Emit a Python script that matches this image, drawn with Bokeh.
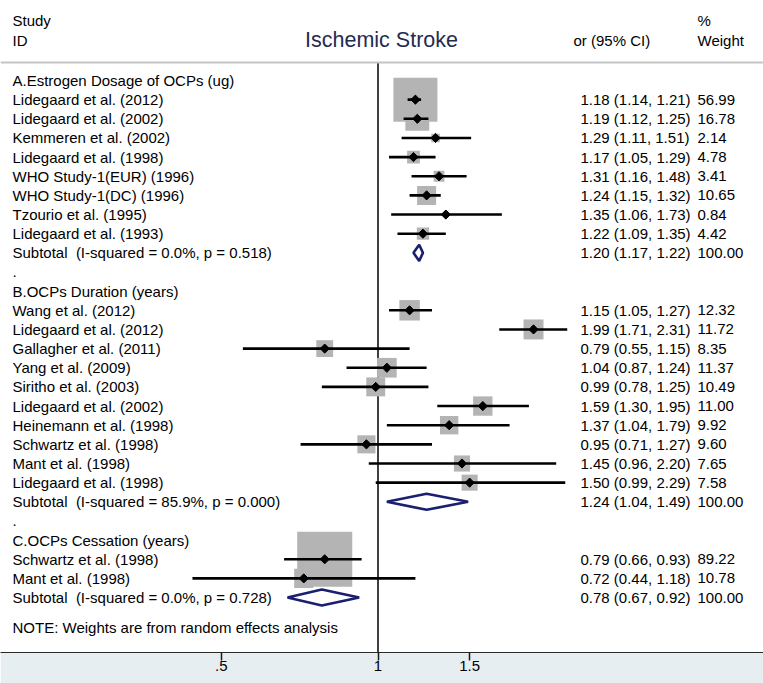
import math
from bokeh.plotting import figure
from bokeh.models import Range1d, FixedTicker, Label, LabelSet, ColumnDataSource, Span
from bokeh.core.properties import value
from bokeh.embed import file_html
from bokeh.resources import INLINE

# ---------------- data ----------------
chart_title = "Ischemic Stroke"
header_left = ["Study", "ID"]
header_est = "or (95% CI)"
header_w = ["%", "Weight"]

group_names = ["A.Estrogen Dosage of OCPs (ug)", "B.OCPs Duration (years)", "C.OCPs Cessation (years)"]

studies_A = ["Lidegaard et al. (2012)", "Lidegaard et al. (2002)", "Kemmeren et al. (2002)",
             "Lidegaard et al. (1998)", "WHO Study-1(EUR) (1996)", "WHO Study-1(DC) (1996)",
             "Tzourio et al. (1995)", "Lidegaard et al. (1993)"]
or_A = [1.18, 1.19, 1.29, 1.17, 1.31, 1.24, 1.35, 1.22]
lo_A = [1.14, 1.12, 1.11, 1.05, 1.16, 1.15, 1.06, 1.09]
hi_A = [1.21, 1.25, 1.51, 1.29, 1.48, 1.32, 1.73, 1.35]
w_A = [56.99, 16.78, 2.14, 4.78, 3.41, 10.65, 0.84, 4.42]

studies_B = ["Wang et al. (2012)", "Lidegaard et al. (2012)", "Gallagher et al. (2011)",
             "Yang et al. (2009)", "Siritho et al. (2003)", "Lidegaard et al. (2002)",
             "Heinemann et al. (1998)", "Schwartz et al. (1998)", "Mant et al. (1998)",
             "Lidegaard et al. (1998)"]
or_B = [1.15, 1.99, 0.79, 1.04, 0.99, 1.59, 1.37, 0.95, 1.45, 1.50]
lo_B = [1.05, 1.71, 0.55, 0.87, 0.78, 1.30, 1.04, 0.71, 0.96, 0.99]
hi_B = [1.27, 2.31, 1.15, 1.24, 1.25, 1.95, 1.79, 1.27, 2.20, 2.29]
w_B = [12.32, 11.72, 8.35, 11.37, 10.49, 11.00, 9.92, 9.60, 7.65, 7.58]

studies_C = ["Schwartz et al. (1998)", "Mant et al. (1998)"]
or_C = [0.79, 0.72]
lo_C = [0.66, 0.44]
hi_C = [0.93, 1.18]
w_C = [89.22, 10.78]

sub_or = [1.20, 1.24, 0.78]
sub_lo = [1.17, 1.04, 0.67]
sub_hi = [1.22, 1.49, 0.92]
sub_i2 = [0.0, 85.9, 0.0]
sub_p = [0.518, 0.000, 0.728]
sub_w = [100.00, 100.00, 100.00]

null_value = 1
tick_values = [0.5, 1, 1.5]
tick_labels = [".5", "1", "1.5"]
note_text = "NOTE: Weights are from random effects analysis"

# ---------------- layout / style ----------------
FONT = "Liberation Sans"
FS = "15px"
W, H = 763, 683
BOTTOM = 31
ROW_PX = 19.15
ROW0_PX = 80.0
frame_h = H - BOTTOM
r_top = -ROW0_PX / ROW_PX
r_bot = (frame_h - ROW0_PX) / ROW_PX
PX_PER_LN = 226.0
X_NULL_PX = 377.5
x_lo = math.exp(-X_NULL_PX / PX_PER_LN)
x_hi = math.exp((W - X_NULL_PX) / PX_PER_LN)

X_LEFT = 12
X_EST = 580
X_W = 697
X_EST_HEAD = 573
X_TITLE = 381

BOX_K = 5.83

p = figure(width=W, height=H, x_axis_type="log",
           x_range=Range1d(x_lo, x_hi), y_range=Range1d(r_bot, r_top),
           y_axis_location=None, output_backend="svg", toolbar_location=None,
           min_border_left=0, min_border_right=0, min_border_top=0, min_border_bottom=BOTTOM)
p.xgrid.visible = False
p.ygrid.visible = False
p.outline_line_color = None
p.background_fill_color = "white"
p.border_fill_color = "#e7eef2"

ax = p.xaxis[0]
ax.ticker = FixedTicker(ticks=tick_values, minor_ticks=[])
ax.major_label_overrides = {t: l for t, l in zip(tick_values, tick_labels)}
ax.axis_line_color = "#2a2a2a"
ax.axis_line_width = 1.2
ax.major_tick_line_color = "#1a1a1a"
ax.major_tick_line_width = 1.5
ax.major_tick_out = 8
ax.major_tick_in = 0
ax.minor_tick_out = 0
ax.major_label_standoff = 0
ax.major_label_text_font = FONT
ax.major_label_text_font_size = FS
ax.major_label_text_color = "black"

# ---------------- build rows ----------------
groups = [(studies_A, or_A, lo_A, hi_A, w_A),
          (studies_B, or_B, lo_B, hi_B, w_B),
          (studies_C, or_C, lo_C, hi_C, w_C)]

left_y, left_t = [], []
est_y, est_t, wt_t = [], [], []
st_y, st_or, st_lo, st_hi, st_size = [], [], [], [], []
dia_xs, dia_ys = [], []

r = 0
for gi, (names, ors, los, his, ws) in enumerate(groups):
    left_y.append(r); left_t.append(group_names[gi]); r += 1
    for n, o, l, h, w in zip(names, ors, los, his, ws):
        left_y.append(r); left_t.append(n)
        est_y.append(r); est_t.append(f"{o:.2f} ({l:.2f}, {h:.2f})"); wt_t.append(f"{w:.2f}")
        st_y.append(r); st_or.append(o); st_lo.append(l); st_hi.append(h)
        st_size.append(BOX_K * math.sqrt(w))
        r += 1
    left_y.append(r)
    left_t.append(f"Subtotal\u00a0 (I-squared = {sub_i2[gi]:.1f}%, p = {sub_p[gi]:.3f})")
    est_y.append(r)
    est_t.append(f"{sub_or[gi]:.2f} ({sub_lo[gi]:.2f}, {sub_hi[gi]:.2f})")
    wt_t.append(f"{sub_w[gi]:.2f}")
    hh = 0.42
    dia_xs.append([sub_lo[gi], sub_or[gi], sub_hi[gi], sub_or[gi]])
    dia_ys.append([r, r - hh, r, r + hh])
    r += 1
    if gi < len(groups) - 1:
        left_y.append(r); left_t.append("."); r += 1

note_row = r + 0.56
line_row = -0.94

# header rule and null line
p.add_layout(Span(location=line_row, dimension="width", line_color="#c4c4c4", line_width=2))
p.segment(x0=[null_value], x1=[null_value], y0=[line_row], y1=[r_bot],
          line_color="black", line_width=1.5)

# boxes
p.scatter(x=st_or, y=st_y, size=st_size, marker="square",
          fill_color="#b4b4b4", line_color=None)
# CIs
p.segment(x0=st_lo, x1=st_hi, y0=st_y, y1=st_y, line_color="black", line_width=2.6)
# point estimates
p.scatter(x=st_or, y=st_y, marker="square", angle=math.pi / 4, size=6.5,
          fill_color="black", line_color="black")
# subtotal diamonds
p.patches(xs=dia_xs, ys=dia_ys, fill_color=None, line_color="#1a1f70", line_width=2.6)

# text columns
def labelset(ys, texts, x, align="left"):
    src = ColumnDataSource(dict(y=ys, text=texts))
    return LabelSet(x=x, y="y", text="text", x_units="screen", y_units="data", source=src,
                    text_font=value(FONT), text_font_size=value(FS), text_color="black",
                    text_baseline="middle", text_align=align)

p.add_layout(labelset(left_y, left_t, X_LEFT))
p.add_layout(labelset(est_y, est_t, X_EST))
p.add_layout(labelset(est_y, wt_t, X_W))

def lab(text, x, y, size=FS, color="black", align="left"):
    p.add_layout(Label(x=x, y=y, x_units="screen", y_units="data", text=text,
                       text_font=FONT, text_font_size=size, text_color=color,
                       text_baseline="middle", text_align=align))

lab(header_left[0], X_LEFT, -3.13)
lab(header_left[1], X_LEFT, -2.09)
lab(header_est, X_EST_HEAD, -2.09)
lab(header_w[0], X_W, -3.13)
lab(header_w[1], X_W, -2.09)
lab(chart_title, X_TITLE, -2.09, size="21.5px", color="#1f2c52", align="center")
lab(note_text, X_LEFT, note_row)

open("out.html", "w").write(file_html(p, INLINE))
